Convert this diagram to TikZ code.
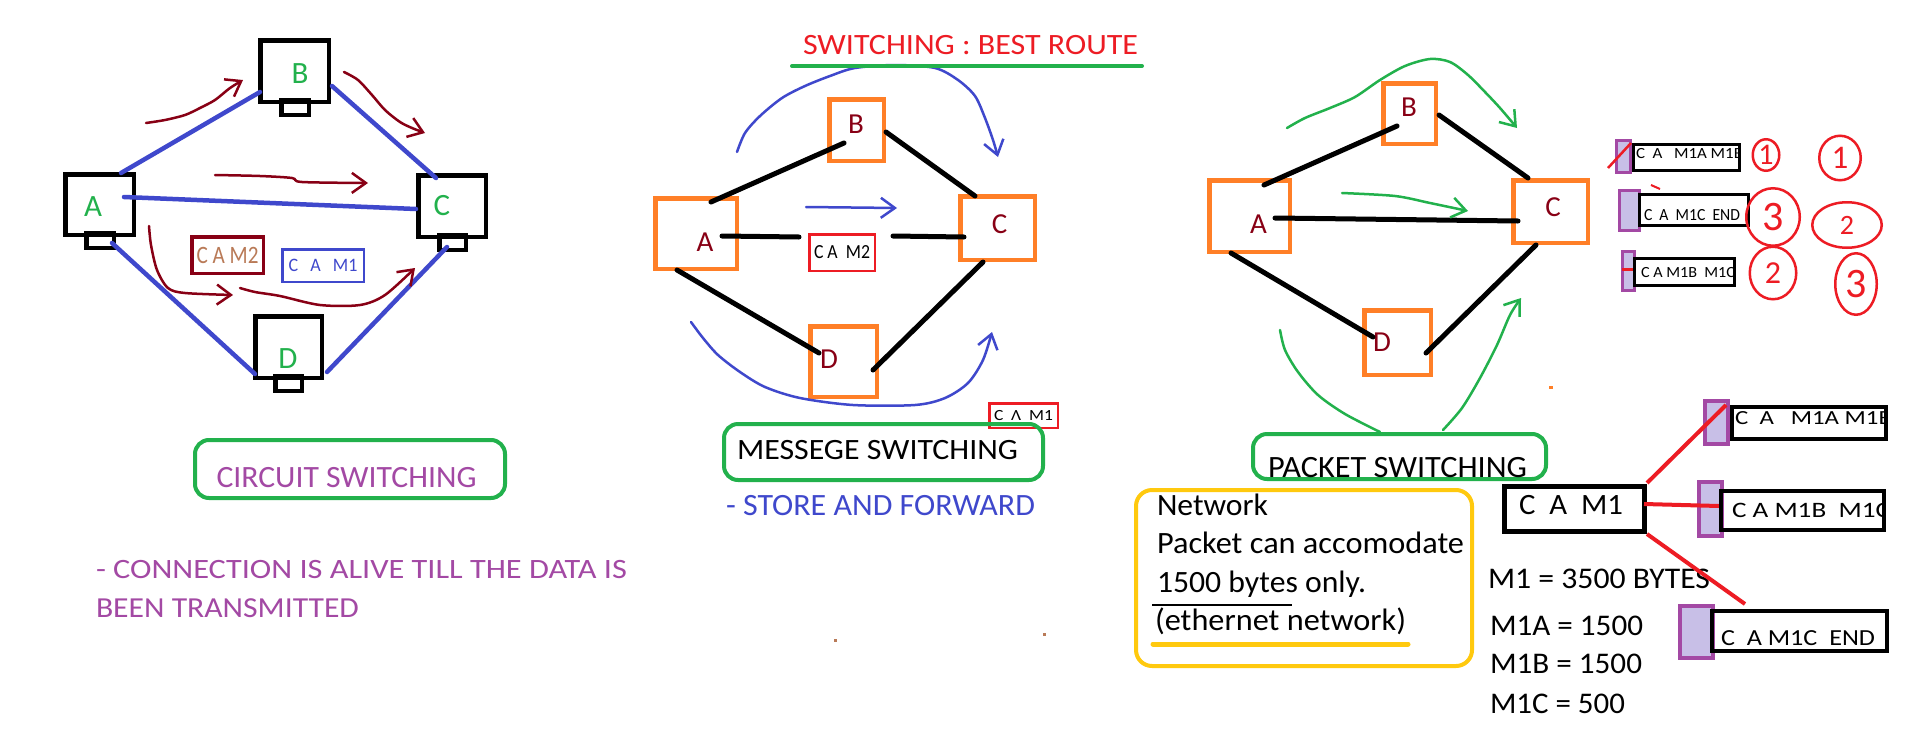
\documentclass[tikz,border=0pt]{standalone}
\usepackage{fontspec}
\setmainfont{Carlito}
\usepackage{graphicx}
\usetikzlibrary{arrows.meta,shapes.geometric}
\definecolor{cBlue}{HTML}{3F48CC}
\definecolor{cDark}{HTML}{880015}
\definecolor{cGreen}{HTML}{22B14C}
\definecolor{cOrange}{HTML}{FF7F27}
\definecolor{cRed}{HTML}{ED1C24}
\definecolor{cPurple}{HTML}{A349A4}
\definecolor{cLilac}{HTML}{C8BFE7}
\definecolor{cTan}{HTML}{B97A57}
\definecolor{cYellow}{HTML}{FFC90E}
\newcommand\tx[3]{\resizebox{#2pt}{\height}{\fontsize{#1pt}{#1pt}\selectfont #3}}
\tikzset{
  every node/.style={inner sep=0pt, outer sep=0pt},
  sz/.style 2 args={minimum width=#1pt, minimum height=#2pt},
  bx/.style={draw=black, rectangle, line width=4.5pt},
  ob/.style={draw=cOrange, rectangle, line width=4.5pt},
  gb/.style={draw=cGreen, rectangle, rounded corners=14pt, line width=4pt},
  pk/.style={draw=black, rectangle, line width=4pt},
  lil/.style={draw=cPurple, fill=cLilac, rectangle, line width=4pt},
  txt/.style={anchor=base west},
  bluel/.style={draw=cBlue, line width=4.5pt, line cap=round},
  blkl/.style={draw=black, line width=5pt, line cap=round},
  redl/.style={draw=cRed, line width=4pt},
  hand/.style={line width=2.5pt, line cap=round, line join=round, -{Straight Barb[length=14pt,width=20pt]}},
  circ/.style={draw=cRed, ellipse, line width=2.5pt, text=cRed},
  lA/.style={font=\fontsize{31pt}{31pt}\selectfont, text=cGreen},
  lM/.style={font=\fontsize{29pt}{29pt}\selectfont, text=cDark},
}
\begin{document}
\begin{tikzpicture}[x=1pt,y=-1pt]
\useasboundingbox (0,0) rectangle (1914,734);
\fill[white] (0,0) rectangle (1914,734);

%% ===== CIRCUIT SWITCHING (left) =====
\node[bx,sz={68.5}{60.5}] (cA) at (99.5,204.5) {};
\node[bx,sz={68.5}{61.5}] (cB) at (294.5,71) {};
\node[bx,sz={67.5}{61.5}] (cC) at (452,206) {};
\node[bx,sz={66.5}{61.5}] (cD) at (288.5,347) {};
\node[bx,sz={27.5}{14.5}] (cAb) at (100,240.5) {};
\node[bx,sz={27.5}{14.5}] (cBb) at (295,107.5) {};
\node[bx,sz={26.5}{14.5}] (cCb) at (452.5,242.5) {};
\node[bx,sz={26.5}{14.5}] (cDb) at (288.5,383.5) {};
\node[lA] (cAt) at (93,207) {A};
\node[lA] (cBt) at (300,74) {B};
\node[lA] (cCt) at (442,206) {C};
\node[lA] (cDt) at (288,359) {D};

\draw[bluel] ([shift={(21.5,-31.5)}]cA.center) -- ([shift={(-34.5,21)}]cB.center);
\draw[bluel] ([shift={(37.5,15)}]cB.center) -- ([shift={(-16,-28)}]cC.center);
\draw[bluel] ([shift={(24.5,-7.5)}]cA.center) -- ([shift={(-36,3)}]cC.center);
\draw[bluel] ([shift={(12.5,38.5)}]cA.center) -- ([shift={(-33.5,27)}]cD.center);
\draw[bluel] ([shift={(38.5,25)}]cD.center) -- ([shift={(-5,41)}]cC.center);

\draw[hand, cDark] plot[smooth] coordinates {(146,123) (165,120) (185,115) (200,108) (215,100) (230,88) (243,80)};
\draw[hand, cDark] plot[smooth] coordinates {(344,72) (358,80) (372,95) (385,110) (400,122) (412,128) (425,133)};
\draw[hand, cDark] plot[smooth] coordinates {(215,175) (260,176) (292,178) (302,182) (368,183)};
\draw[hand, cDark] plot[smooth] coordinates {(149,226) (151,245) (157,270) (168,288) (185,293) (233,295)};
\draw[hand, cDark] plot[smooth] coordinates {(240,288) (255,292) (280,296) (320,305) (360,305) (385,295) (415,268)};

\node[draw=cDark, line width=3.5pt, sz={71.5}{36.5}, text=cTan] (lM2) at (227.5,255) {\tx{25}{62}{C A M2}};
\node[draw=cBlue, line width=2.5pt, sz={81.5}{32.5}, text=cBlue] (lM1) at (323,265.5) {\tx{19}{69}{C\ \ \ A\ \ \ M1}};

\node[gb,sz={310}{58}] (gCS) at (350,469) {};
\node[txt, text=cPurple] (tCS) at (216.5,487) {\tx{31}{260}{CIRCUIT SWITCHING}};
\node[txt, text=cPurple] (tC1) at (96,578) {\tx{28}{531}{- CONNECTION IS ALIVE TILL THE DATA IS}};
\node[txt, text=cPurple] (tC2) at (96,617) {\tx{29}{263}{BEEN TRANSMITTED}};

%% ===== MESSAGE SWITCHING (middle) =====
\draw[hand, cBlue] plot[smooth] coordinates {(737,152) (745,133) (760,116) (782,98) (805,86) (830,76) (855,68) (895,65) (935,68) (958,80) (975,96) (985,118) (993,140) (998,157)};
\draw[line width=4pt, cGreen, line cap=round] (792,66) -- (1142,66);
\node[txt, text=cRed] (title) at (803,54) {\tx{29.5}{335}{SWITCHING : BEST ROUTE}};

\node[ob,sz={81.5}{70.5}] (mA) at (696,233.5) {};
\node[ob,sz={54.5}{61.5}] (mB) at (856.5,130) {};
\node[ob,sz={74.5}{63.5}] (mC) at (997.5,228) {};
\node[ob,sz={66.5}{70.5}] (mD) at (843.5,361.5) {};
\node[lM] (mAt) at (705,242) {A};
\node[lM] (mBt) at (856,124) {B};
\node[lM] (mCt) at (999.5,224) {C};
\node[lM] (mDt) at (829,359) {D};

\node[draw=cRed, line width=2.5pt, sz={65.5}{36.5}] (mM2) at (842,252.5) {\tx{20}{56}{C\ A\ \ M2}};

\draw[blkl] ([shift={(15,-31.5)}]mA.center) -- ([shift={(-12.5,13)}]mB.center);
\draw[blkl] ([shift={(29.5,2)}]mB.center) -- ([shift={(-22.5,-32)}]mC.center);
\draw[blkl] ([shift={(26,2.5)}]mA.center) -- ([shift={(-43,-15.5)}]mM2.center);
\draw[blkl] ([shift={(51,-16.5)}]mM2.center) -- ([shift={(-33.5,9)}]mC.center);
\draw[blkl] ([shift={(-19,36.5)}]mA.center) -- ([shift={(-24.5,-8.5)}]mD.center);
\draw[blkl] ([shift={(29.5,8.5)}]mD.center) -- ([shift={(-14.5,34)}]mC.center);

\draw[hand, cBlue] (806,207) -- (897,208);
\draw[hand, cBlue] plot[smooth] coordinates {(691,322) (703,338) (718,355) (740,372) (765,387) (800,398) (853,405) (915,405) (945,398) (968,383) (983,360) (992,332)};

\node[draw=cRed, line width=2.5pt, sz={68.5}{24.5}] (mM1) at (1023.5,415.5) {\tx{15.5}{59}{C\ \ Λ\ \ M1}};

\node[gb,sz={319}{56}] (gMS) at (883.5,452) {};
\node[txt] (tMS) at (737,459) {\tx{29.5}{281}{MESSEGE SWITCHING}};
\node[txt, text=cBlue] (tSF) at (726,515) {\tx{31}{309}{- STORE AND FORWARD}};

\fill[cTan] (833.5,638.5) rectangle (836.5,641.5);
\fill[cTan] (1042.5,632.5) rectangle (1045.5,635.5);

%% ===== PACKET SWITCHING (right) =====
\node[ob,sz={80.5}{71.5}] (rA) at (1249.5,216) {};
\node[ob,sz={52.5}{60.5}] (rB) at (1409.5,113.5) {};
\node[ob,sz={74.5}{62.5}] (rC) at (1550.5,211.5) {};
\node[ob,sz={66.5}{64.5}] (rD) at (1397.5,342.5) {};
\node[lM] (rAt) at (1258.5,224) {A};
\node[lM] (rBt) at (1409,107) {B};
\node[lM] (rCt) at (1553,207) {C};
\node[lM] (rDt) at (1382,342) {D};

\draw[blkl] ([shift={(14.5,-31)}]rA.center) -- ([shift={(-12.5,12.5)}]rB.center);
\draw[blkl] ([shift={(29.5,1.5)}]rB.center) -- ([shift={(-22.5,-33.5)}]rC.center);
\draw[blkl] ([shift={(25.5,2)}]rA.center) -- ([shift={(-32.5,9.5)}]rC.center);
\draw[blkl] ([shift={(-18.5,37)}]rA.center) -- ([shift={(-24.5,-5.5)}]rD.center);
\draw[blkl] ([shift={(28.5,10.5)}]rD.center) -- ([shift={(-14.5,33.5)}]rC.center);

\draw[hand, cGreen] plot[smooth] coordinates {(1287,128) (1305,118) (1330,108) (1355,97) (1380,80) (1405,66) (1430,59) (1450,62) (1468,75) (1485,92) (1500,108) (1517,128)};
\draw[hand, cGreen] plot[smooth] coordinates {(1342,193) (1395,196) (1430,203) (1468,211)};
\draw[line width=2.5pt, cGreen, line cap=round] plot[smooth] coordinates {(1280,330) (1285,350) (1298,372) (1318,395) (1345,414) (1380,432)};
\draw[hand, cGreen] plot[smooth] coordinates {(1443,430) (1462,408) (1480,378) (1497,345) (1510,315) (1521,298)};
\fill[cOrange] (1549,386) rectangle (1553,389);

\node[gb,sz={293}{45}] (gPS) at (1399.5,456.5) {};
\node[txt] (tPS) at (1268,477) {\tx{31}{259}{PACKET SWITCHING}};

\node[draw=cYellow, rectangle, rounded corners=16pt, line width=4pt, sz={336}{176}] (yN) at (1304,578) {};
\node[txt] (y1) at (1157,515) {\tx{31}{111}{Network}};
\node[txt] (y2) at (1157,553) {\tx{31}{307}{Packet can accomodate}};
\node[txt] (y3) at (1157,592) {\tx{31}{209}{1500 bytes only.}};
\node[txt] (y4) at (1155,630) {\tx{31}{251}{(ethernet network)}};
\draw[line width=2.5pt] (1152,605) -- (1292,605);
\draw[line width=5pt, cYellow, line cap=round] (1153,644) -- (1408,644);

%% fragments
\node[pk, line width=5pt, sz={140}{45}] (cam) at (1574.5,509) {};
\node[txt] (camt) at (1519,514) {\tx{29.5}{104}{C\ \ A\ \ M1}};

\node[pk,sz={154}{32}] (p1) at (1809,423) {};
\begin{scope}
\clip (p1.south west) rectangle ([shift={(-2,0)}]p1.north east);
\node[txt] (p1t) at (1735,424) {\tx{20}{157}{C\ \ A\ \ \ M1A M1B}};
\end{scope}
\node[lil,sz={23}{43}] (p1h) at (1716.5,422.5) {};

\node[lil,sz={23}{54}] (p2h) at (1710.5,509) {};
\node[lil,sz={33}{52}] (p3h) at (1696.5,632) {};
\draw[redl] ([shift={(72.5,-26)}]cam.center) -- ([shift={(9.5,-17.5)}]p1h.center);
\draw[redl] ([shift={(69.5,-5)}]cam.center) -- ([shift={(8.5,-3)}]p2h.center);

\node[pk,sz={163}{39}] (p2) at (1802.5,510.5) {};
\begin{scope}
\clip (p2.south west) rectangle ([shift={(-2,0)}]p2.north east);
\node[txt] (p2t) at (1732,517) {\tx{22}{158}{C\ A\ M1B\ \ M1C}};
\end{scope}
\node[pk,sz={175}{40}] (p3) at (1799.5,631) {};
\node[txt] (p3t) at (1721,645) {\tx{23}{154}{C\ \ A\ M1C\ \ END}};

\node[txt] (m1) at (1488,588) {\tx{30}{222}{M1 = 3500 BYTES}};
\node[txt] (m2) at (1490,635) {\tx{30}{153}{M1A = 1500}};
\node[txt] (m3) at (1490,673) {\tx{30}{152}{M1B = 1500}};
\node[txt] (m4) at (1490,713) {\tx{30}{135}{M1C = 500}};
\draw[redl] ([shift={(72.5,25)}]cam.center) -- ([shift={(-54.5,-27)}]p3.center);

%% small fragments (top right)
\node[pk, line width=3.5pt, sz={106}{26}] (s1) at (1686.5,157.5) {};
\begin{scope}
\clip (s1.south west) rectangle ([shift={(-2,0)}]s1.north east);
\node[txt] (s1t) at (1636,158) {\tx{15.5}{107}{C\ \ A\ \ \ M1A M1B}};
\end{scope}
\node[lil, line width=3pt, sz={14}{32}] (s1h) at (1623.5,156.5) {};
\draw[cRed, line width=2.5pt] ([shift={(-15.5,11.5)}]s1h.center) -- ([shift={(7.5,-13.5)}]s1h.center);

\node[lil, line width=3pt, sz={20}{40}] (s2h) at (1629.5,210.5) {};
\node[pk, line width=3.5pt, sz={109}{31}] (s2) at (1694,210) {};
\node[txt] (s2t) at (1644,220) {\tx{17}{96}{C\ \ A\ \ M1C\ \ END}};
\draw[cRed, line width=2pt] ([shift={(21.5,-25.5)}]s2h.center) -- ([shift={(30.5,-21.5)}]s2h.center);

\node[lil, line width=3pt, sz={12}{39}] (s3h) at (1628.5,271) {};
\draw[cRed, line width=3pt] ([shift={(-6.5,-2)}]s3h.center) -- ([shift={(4.5,-2)}]s3h.center);
\node[pk, line width=3.5pt, sz={100}{27}] (s3) at (1684.5,272) {};
\begin{scope}
\clip (s3.south west) rectangle ([shift={(-2,0)}]s3.north east);
\node[txt] (s3t) at (1641,277) {\tx{15.5}{94}{C A M1B\ \ M1C}};
\end{scope}

%% circled order numbers
\node[circ, sz={26.5}{31.5}, font=\fontsize{30pt}{30pt}\selectfont] (e11) at (1766,155) {1};
\node[circ, sz={53.5}{57.5}, font=\fontsize{42pt}{42pt}\selectfont] (e13) at (1773,217) {3};
\node[circ, sz={46.5}{52.5}, font=\fontsize{32pt}{32pt}\selectfont] (e12) at (1773,273) {2};
\node[circ, sz={41.5}{44.5}, font=\fontsize{33pt}{33pt}\selectfont] (e21) at (1840,158) {1};
\node[circ, sz={69.5}{45.5}, font=\fontsize{28pt}{28pt}\selectfont] (e22) at (1847,225) {2};
\node[circ, sz={41.5}{61.5}, font=\fontsize{42pt}{42pt}\selectfont] (e23) at (1856,284) {3};
\end{tikzpicture}
\end{document}
